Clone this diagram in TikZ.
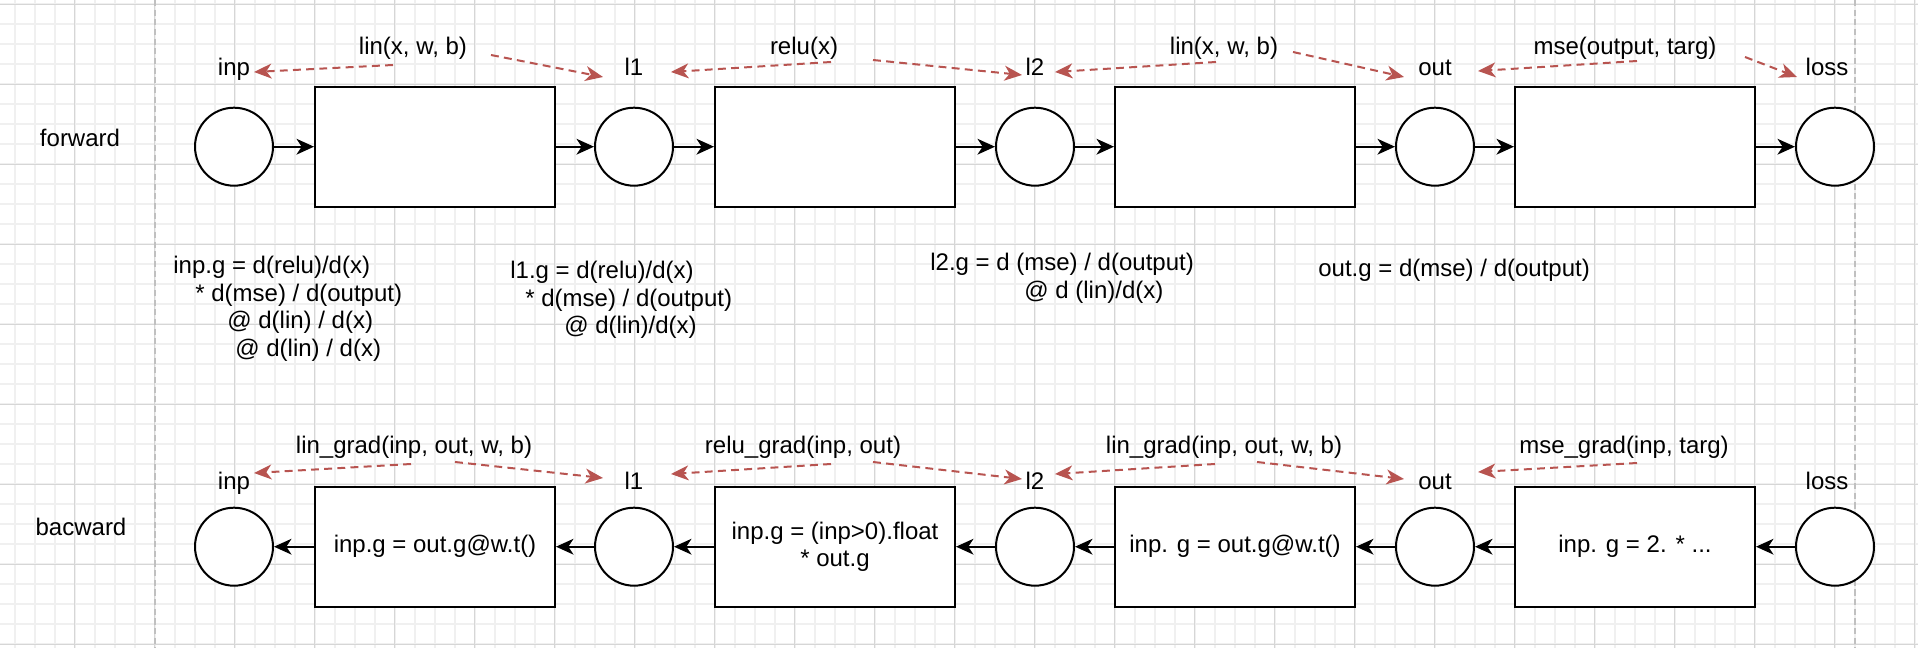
\documentclass[tikz,border=0pt]{standalone}
\usepackage{fontspec}
\setmainfont{Liberation Sans}
\usetikzlibrary{arrows.meta}
\definecolor{gridminor}{HTML}{F0F0F0}
\definecolor{gridmajor}{HTML}{D6D6D6}
\definecolor{pageline}{HTML}{C0C0C0}
\definecolor{callred}{HTML}{B85450}
\tikzset{
  val/.style={circle,draw,fill=white,line width=1.14pt,minimum size=1.56cm,inner sep=0pt},
  op/.style={rectangle,draw,fill=white,line width=1.14pt,minimum width=4.8cm,minimum height=2.4cm,inner sep=0pt,align=center},
  txt/.style={inner sep=0pt,anchor=base},
  note/.style={inner sep=0pt,anchor=base west,align=left},
  flow/.style={line width=1.14pt,-{Stealth[length=10pt,width=9pt,inset=3pt]}},
  call/.style={callred,line width=1.14pt,dash pattern=on 4.5pt off 3pt,-{Stealth[length=10pt,width=8.5pt,inset=3pt]}}
}
\begin{document}
\begin{tikzpicture}[x=0.02cm,y=-0.02cm,font=\fontsize{13.66}{15.8}\selectfont]
\useasboundingbox (0,0) rectangle (1918,648);
\fill[white] (0,0) rectangle (1918,648);
\foreach \gx in {14.8,34.8,...,1915} \draw[gridminor,line width=1pt] (\gx,0)--(\gx,648);
\foreach \gy in {4.3,24.3,...,645} \draw[gridminor,line width=1pt] (0,\gy)--(1918,\gy);
\foreach \gx in {74.8,154.8,...,1915} \draw[gridmajor,line width=0.6pt] (\gx,0)--(\gx,648);
\foreach \gy in {4.3,84.3,...,645} \draw[gridmajor,line width=0.6pt] (0,\gy)--(1918,\gy);
\foreach \gx in {154.8,1854.8} \draw[pageline,line width=1pt,dash pattern=on 3.5pt off 2pt] (\gx,0)--(\gx,648);

\node[txt] (fwd) at (80,146.7) {forward};
\node[txt] (bwd) at (81,536) {bacward};

\node[val] (inp) at (234,146.7) {};
\node[op] (lin1) at (435,146.7) {};
\node[val] (l1) at (634,146.7) {};
\node[op] (relu) at (835,146.7) {};
\node[val] (l2) at (1035,146.7) {};
\node[op] (lin2) at (1235,146.7) {};
\node[val] (out) at (1435,146.7) {};
\node[op] (mse) at (1635,146.7) {};
\node[val] (loss) at (1835,146.7) {};
\draw[flow] (inp)--(lin1); \draw[flow] (lin1)--(l1); \draw[flow] (l1)--(relu); \draw[flow] (relu)--(l2);
\draw[flow] (l2)--(lin2); \draw[flow] (lin2)--(out); \draw[flow] (out)--(mse); \draw[flow] (mse)--(loss);

\node[txt] (tinp) at (234,76) {inp}; \node[txt] (tl1) at (634,76) {l1}; \node[txt] (tl2) at (1035,76) {l2};
\node[txt] (tout) at (1435,76) {out}; \node[txt] (tloss) at (1827,76) {loss};
\node[txt] (fa) at (413,54.3) {lin(x, w, b)}; \node[txt] (fb) at (804,54.3) {relu(x)};
\node[txt] (fc) at (1224,54.3) {lin(x, w, b)}; \node[txt] (fd) at (1625,54.3) {mse(output, targ)};
\draw[call] ([shift={(-20,10.7)}]fa.base)--([shift={(20,-4)}]tinp.base);
\draw[call] ([shift={(78,0.7)}]fa.base)--([shift={(-31,1)}]tl1.base);
\draw[call] ([shift={(27,7.7)}]fb.base)--([shift={(37,-4)}]tl1.base);
\draw[call] ([shift={(69,5.7)}]fb.base)--([shift={(-13,-1)}]tl2.base);
\draw[call] ([shift={(-8,7.7)}]fc.base)--([shift={(20,-4)}]tl2.base);
\draw[call] ([shift={(69,-2.3)}]fc.base)--([shift={(-31,1)}]tout.base);
\draw[call] ([shift={(12,6.7)}]fd.base)--([shift={(43,-5)}]tout.base);
\draw[call] ([shift={(120,2.7)}]fd.base)--([shift={(-30,1)}]tloss.base);

\node[note] (ginp) at (173,356.7) {inp.g = d(relu)/d(x)\\\hspace*{0.44cm}* d(mse) / d(output)\\\hspace*{1.08cm}@ d(lin) / d(x)\\\hspace*{1.24cm}@ d(lin) / d(x)};
\node[note] (gl1) at (510,334) {l1.g = d(relu)/d(x)\\\hspace*{0.3cm}* d(mse) / d(output)\\\hspace*{1.08cm}@ d(lin)/d(x)};
\node[note] (gl2) at (930,298.5) {l2.g = d (mse) / d(output)\\\hspace*{1.88cm}@ d (lin)/d(x)};
\node[note] (gout) at (1318,276.7) {out.g = d(mse) / d(output)};

\node[val] (binp) at (234,546.7) {};
\node[op] (blin1) at (435,546.7) {inp.g = out.g@w.t()};
\node[val] (bl1) at (634,546.7) {};
\node[op] (brelu) at (835,546.7) {inp.g = (inp>0).float\\* out.g};
\node[val] (bl2) at (1035,546.7) {};
\node[op] (blin2) at (1235,546.7) {inp. g = out.g@w.t()};
\node[val] (bout) at (1435,546.7) {};
\node[op] (bmse) at (1635,546.7) {inp. g = 2. * ...};
\node[val] (bloss) at (1835,546.7) {};
\draw[flow] (bloss)--(bmse); \draw[flow] (bmse)--(bout); \draw[flow] (bout)--(blin2); \draw[flow] (blin2)--(bl2);
\draw[flow] (bl2)--(brelu); \draw[flow] (brelu)--(bl1); \draw[flow] (bl1)--(blin1); \draw[flow] (blin1)--(binp);

\node[txt] (sinp) at (234,490) {inp}; \node[txt] (sl1) at (634,490) {l1}; \node[txt] (sl2) at (1035,490) {l2};
\node[txt] (sout) at (1435,490) {out}; \node[txt] (sloss) at (1827,490) {loss};
\node[txt] (ga) at (414,453.3) {lin\_grad(inp, out, w, b)}; \node[txt] (gb) at (803,453.3) {relu\_grad(inp, out)};
\node[txt] (gc) at (1224,453.3) {lin\_grad(inp, out, w, b)}; \node[txt] (gd) at (1624,453.3) {mse\_grad(inp, targ)};
\draw[call] ([shift={(-3,10.7)}]ga.base)--([shift={(20,-17)}]sinp.base);
\draw[call] ([shift={(41,8.7)}]ga.base)--([shift={(-31,-12)}]sl1.base);
\draw[call] ([shift={(28,10.7)}]gb.base)--([shift={(37,-16)}]sl1.base);
\draw[call] ([shift={(70,8.7)}]gb.base)--([shift={(-13,-11)}]sl2.base);
\draw[call] ([shift={(-9,10.7)}]gc.base)--([shift={(20,-16)}]sl2.base);
\draw[call] ([shift={(33,8.7)}]gc.base)--([shift={(-31,-11)}]sout.base);
\draw[call] ([shift={(13,9.7)}]gd.base)--([shift={(43,-18)}]sout.base);
\end{tikzpicture}
\end{document}
